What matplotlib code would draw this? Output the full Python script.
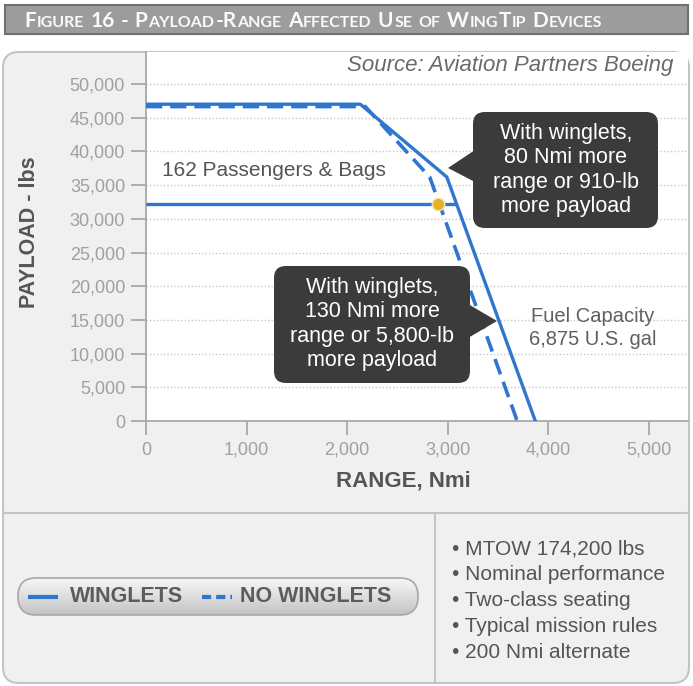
import matplotlib
matplotlib.use("Agg")
import matplotlib.pyplot as plt
from matplotlib.patches import FancyBboxPatch, Polygon, Rectangle
import numpy as np

plt.rcParams['font.family'] = ['Liberation Sans', 'DejaVu Sans']

# ---------------- data ----------------
range_winglets = [0, 2130, 2990, 3870]
payload_winglets = [47000, 47000, 36200, 0]
range_no_winglets = [0, 2180, 2820, 3690]
payload_no_winglets = [46650, 46650, 36200, 0]
passenger_range = [0, 3080]
passenger_payload = [32200, 32200]
point_range = [2900]
point_payload = [32200]
x_ticks = [0, 1000, 2000, 3000, 4000, 5000]
y_ticks = [0, 5000, 10000, 15000, 20000, 25000, 30000, 35000, 40000, 45000, 50000]
notes = ["MTOW 174,200 lbs", "Nominal performance", "Two-class seating",
         "Typical mission rules", "200 Nmi alternate"]
title = "Figure 16 - Payload-Range Affected Use of WingTip Devices"
callout1 = "With winglets,\n80 Nmi more\nrange or 910-lb\nmore payload"
callout2 = "With winglets,\n130 Nmi more\nrange or 5,800-lb\nmore payload"

BLUE = '#2f76cf'
W, H = 693, 686
fig = plt.figure(figsize=(W / 100, H / 100), dpi=100)
fig.patch.set_facecolor('white')

# background (pixel coordinates)
bg = fig.add_axes([0, 0, 1, 1], zorder=0)
bg.set_xlim(0, W); bg.set_ylim(H, 0); bg.axis('off')

bg.add_patch(Rectangle((5, 5), 683, 29, fc='#9c9c9c', ec='#707070', lw=1.5))
bg.add_patch(FancyBboxPatch((3, 52), 686, 631, boxstyle='round,pad=0,rounding_size=16',
                            fc='#f0f0f0', ec='#c4c4c4', lw=1.5))
bg.plot([3, 689], [513, 513], color='#c4c4c4', lw=1.5)
bg.plot([435, 435], [513, 683], color='#c4c4c4', lw=1.5)

# title in small caps
renderer = fig.canvas.get_renderer()
def small_caps(x, y, s, big=15, small=11.5, color='#fafafa'):
    runs = []
    for ch in s:
        if ch == ' ':
            runs.append(('sp', ' '))
            continue
        kind = 'small' if ch.islower() else 'big'
        if runs and runs[-1][0] == kind:
            runs[-1] = (kind, runs[-1][1] + ch.upper())
        else:
            runs.append((kind, ch.upper()))
    for kind, txt in runs:
        if kind == 'sp':
            x += big * 100 / 72 * 0.26
            continue
        fs = big if kind == 'big' else small
        t = bg.text(x, y, txt, fontsize=fs, fontweight='bold', color=color,
                    family=['Lato', 'DejaVu Sans'], va='baseline', ha='left')
        x += t.get_window_extent(renderer).width + 0.8

small_caps(24, 27, title)

# ---------------- main axes ----------------
x_left, x_right, y_top, y_bot = 146, 688, 52, 421
ax = fig.add_axes([x_left / W, (H - y_bot) / H, (x_right - x_left) / W, (y_bot - y_top) / H], zorder=1)
ax.set_facecolor('white')
ax.set_xlim(0, (x_right - x_left) / 100.6 * 1000)
ax.set_ylim(0, (y_bot - y_top) / 6.74 * 1000)

for s in ['top', 'right']:
    ax.spines[s].set_visible(False)
for s in ['left', 'bottom']:
    ax.spines[s].set_color('#a8a8a8')
    ax.spines[s].set_linewidth(1.3)

ax.set_xticks(x_ticks)
ax.set_yticks(y_ticks)
ax.set_xticklabels([f"{v:,}" for v in x_ticks])
ax.set_yticklabels([f"{v:,}" for v in y_ticks])
ax.tick_params(axis='x', direction='out', length=10, width=1.3, color='#a8a8a8',
               labelcolor='#a0a0a0', labelsize=13, pad=5)
ax.tick_params(axis='y', direction='out', length=11, width=1.3, color='#a8a8a8',
               labelcolor='#a0a0a0', labelsize=13, pad=4)
ax.yaxis.grid(True, linestyle=(0, (1, 1.5)), color='#c8c8c8', lw=1)
ax.set_axisbelow(True)

ax.set_xlabel('RANGE, Nmi', fontsize=16, fontweight='bold', color='#555555')
ax.xaxis.set_label_coords((403 - x_left) / (x_right - x_left), (y_bot - 481) / (y_bot - y_top))
ax.xaxis.label.set_va('center')
ax.set_ylabel('PAYLOAD - lbs', fontsize=15.5, fontweight='bold', color='#555555')
ax.yaxis.set_label_coords((30 - x_left) / (x_right - x_left), (y_bot - 232) / (y_bot - y_top))
ax.yaxis.label.set_va('center')

ax.plot(passenger_range, passenger_payload, color=BLUE, lw=2.4, zorder=3, solid_capstyle='butt')
ax.plot(range_winglets, payload_winglets, color=BLUE, lw=2.4, zorder=4, solid_joinstyle='round')
ax.plot(range_no_winglets, payload_no_winglets, color=BLUE, lw=2.6, zorder=5,
        dashes=(4.5, 2.2))
ax.plot(point_range, point_payload, 'o', color='#e3b324', ms=9, mec='#f3e6b0', mew=1, zorder=6)

ax.text((162 - x_left) / 100.6 * 1000, (y_bot - 170) / 6.74 * 1000, '162 Passengers & Bags',
        fontsize=15, color='#555555', va='center', ha='left')
ax.text((593 - x_left) / 100.6 * 1000, (y_bot - 328) / 6.74 * 1000, 'Fuel Capacity\n6,875 U.S. gal',
        fontsize=14.5, color='#606060', va='center', ha='center', linespacing=1.3)

# ---------------- overlay (pixel coords) ----------------
ov = fig.add_axes([0, 0, 1, 1], zorder=2)
ov.set_xlim(0, W); ov.set_ylim(H, 0); ov.axis('off')

ov.text(673, 66, 'Source: Aviation Partners Boeing', fontsize=16, style='italic',
        color='#6a6a6a', ha='right', va='center')

BOX = '#3b3b3b'
# callout 1
ov.add_patch(FancyBboxPatch((473, 112), 185, 116, boxstyle='round,pad=0,rounding_size=12',
                            fc=BOX, ec='none'))
ov.add_patch(Polygon([[475, 150], [475, 182], [448, 168]], closed=True, fc=BOX, ec='none'))
ov.text(566, 170, callout1, fontsize=15.5, color='white', ha='center', va='center', linespacing=1.2)
# callout 2
ov.add_patch(FancyBboxPatch((274, 266), 196, 117, boxstyle='round,pad=0,rounding_size=12',
                            fc=BOX, ec='none'))
ov.add_patch(Polygon([[468, 304], [468, 338], [497, 321]], closed=True, fc=BOX, ec='none'))
ov.text(372, 324, callout2, fontsize=15.5, color='white', ha='center', va='center', linespacing=1.2)

# legend pill with gradient
pill = FancyBboxPatch((18, 578), 400, 37, boxstyle='round,pad=0,rounding_size=18',
                      fc='none', ec='#a8a8a8', lw=1.2, zorder=3)
ov.add_patch(pill)
grad = np.linspace(0, 1, 100).reshape(-1, 1)
im = ov.imshow(grad, cmap=matplotlib.colors.LinearSegmentedColormap.from_list(
    'g', ['#f7f7f7', '#dedede', '#c2c2c2']), extent=(18, 418, 615, 578), aspect='auto', zorder=2)
im.set_clip_path(pill)
ov.set_xlim(0, W); ov.set_ylim(H, 0)
ov.plot([28, 58], [597, 597], color=BLUE, lw=3, zorder=4, solid_capstyle='butt')
ov.plot([202, 232], [597, 597], color=BLUE, lw=3, zorder=4, dashes=(2.2, 1.2))
ov.text(70, 597, 'WINGLETS', fontsize=15.5, fontweight='bold', color='#5c5c5c',
        va='center', ha='left', zorder=4)
ov.text(240, 597, 'NO WINGLETS', fontsize=15.5, fontweight='bold', color='#5c5c5c',
        va='center', ha='left', zorder=4)

for i, n in enumerate(notes):
    ov.text(452, 549 + 25.8 * i, '\u2022 ' + n, fontsize=15, color='#555555', va='center', ha='left')

fig.savefig('out.png', dpi=100)
